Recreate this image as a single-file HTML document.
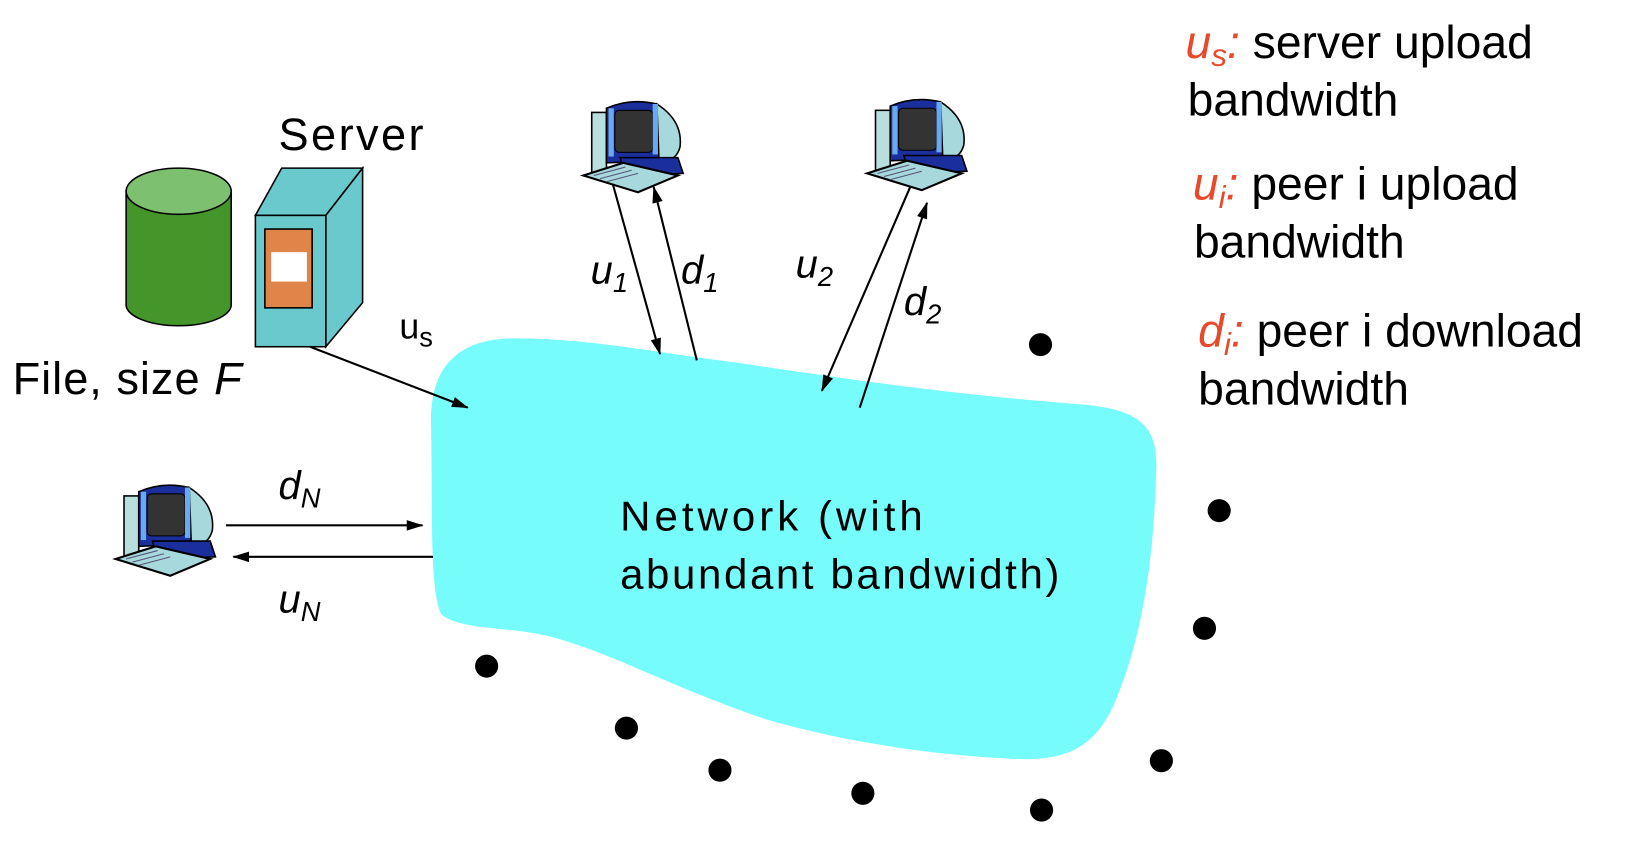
<!DOCTYPE html>
<html><head><meta charset="utf-8"><style>
html,body{margin:0;padding:0;background:#fff;}
svg{display:block}
text{font-family:"Liberation Sans",sans-serif;}
</style></head><body>
<svg width="1648" height="850" viewBox="0 0 1568 809" preserveAspectRatio="none" xmlns="http://www.w3.org/2000/svg">
<defs>
<marker id="ah" markerWidth="16" markerHeight="12" refX="15" refY="6" orient="auto" markerUnits="userSpaceOnUse" viewBox="0 0 16 12">
<path d="M0,1 L16,6 L0,11 Z" fill="#000"/>
</marker>
<g id="pc">
<rect x="8" y="12" width="14" height="58" fill="#b8dede" stroke="#000" stroke-width="1.5"/>
<path d="M22,8 Q45,-2 70,4 L72,58 L22,60 Z" fill="#1a2f9c" stroke="#000" stroke-width="1.5"/>
<path d="M70,4 Q95,20 92,45 Q88,60 72,58 Z" fill="#a6d8dc" stroke="#000" stroke-width="1.5"/>
<rect x="30" y="10" width="36" height="40" rx="4" fill="#333" stroke="#000"/>
<rect x="24" y="8" width="5" height="46" fill="#6aa8f0"/>
<rect x="66" y="4" width="5" height="48" fill="#6aa8f0"/>
<path d="M35,55 L90,55 L95,70 L40,72 Z" fill="#1a2f9c" stroke="#000" stroke-width="1.5"/>
<path d="M0,72 L38,60 L90,72 L52,88 Z" fill="#a6d8dc" stroke="#000" stroke-width="2"/>
<path d="M10,72 L40,64 M16,75 L46,67 M22,78 L52,70" stroke="#557" stroke-width="1"/>
</g>
</defs>

<!-- cylinder -->
<path d="M120,182 L120,290 A50,20 0 0 0 220,290 L220,182 Z" fill="#44962b" stroke="#000" stroke-width="1.5"/>
<ellipse cx="170" cy="182" rx="50" ry="22" fill="#7dc070" stroke="#000" stroke-width="1.5"/>

<!-- server -->
<path d="M243,205 L268,160 L345,160 L310,205 Z" fill="#6ac9cc" stroke="#000" stroke-width="1.5"/>
<path d="M310,205 L345,160 L345,288 L310,330 Z" fill="#6ac9cc" stroke="#000" stroke-width="1.5"/>
<rect x="243" y="205" width="67" height="125" fill="#6ac9cc" stroke="#000" stroke-width="1.5"/>
<rect x="252" y="218" width="45" height="75" fill="#e0844a" stroke="#000" stroke-width="1.5"/>
<rect x="258" y="240" width="34" height="28" fill="#fff"/>

<text x="265" y="143" font-size="43" textLength="138">Server</text>
<text x="12" y="375" font-size="43" textLength="218">File, size <tspan font-style="italic">F</tspan></text>
<text x="380" y="322" font-size="34">u<tspan font-size="26" dy="8">s</tspan></text>

<!-- cloud -->
<path d="M410,400 C410,345 440,322 490,322 C560,322 620,335 700,345 C800,360 900,375 1030,385 C1090,390 1102,410 1100,450 C1098,520 1090,600 1060,670 C1040,715 1010,725 960,722 C880,718 800,705 730,685 C640,655 580,620 520,605 C480,596 440,600 420,585 C408,560 412,480 410,400 Z" fill="#77fcfc"/>

<line x1="295" y1="330" x2="445" y2="388" stroke="#000" stroke-width="2" marker-end="url(#ah)"/>

<text x="590" y="505" font-size="40" textLength="288">Network (with</text>
<text x="590" y="560" font-size="40" textLength="418">abundant bandwidth)</text>

<!-- computers -->
<use href="#pc" transform="translate(555,95)"/>
<use href="#pc" transform="translate(825,93)"/>
<use href="#pc" transform="translate(110,460)"/>

<!-- arrows -->
<line x1="583" y1="175" x2="628" y2="337" stroke="#000" stroke-width="2" marker-end="url(#ah)"/>
<line x1="663" y1="343" x2="622" y2="178" stroke="#000" stroke-width="2" marker-end="url(#ah)"/>
<line x1="866" y1="178" x2="782" y2="372" stroke="#000" stroke-width="2" marker-end="url(#ah)"/>
<line x1="818" y1="388" x2="882" y2="193" stroke="#000" stroke-width="2" marker-end="url(#ah)"/>
<line x1="215" y1="500" x2="402" y2="500" stroke="#000" stroke-width="2" marker-end="url(#ah)"/>
<line x1="412" y1="530" x2="222" y2="530" stroke="#000" stroke-width="2" marker-end="url(#ah)"/>

<g font-size="38" font-style="italic">
<text x="562" y="270">u<tspan font-size="26" dy="8">1</tspan></text>
<text x="648" y="270">d<tspan font-size="26" dy="8">1</tspan></text>
<text x="757" y="264">u<tspan font-size="26" dy="8">2</tspan></text>
<text x="860" y="300">d<tspan font-size="26" dy="8">2</tspan></text>
<text x="265" y="475">d<tspan font-size="26" dy="8">N</tspan></text>
<text x="265" y="583">u<tspan font-size="26" dy="8">N</tspan></text>
</g>

<!-- dots -->
<g fill="#000">
<circle cx="990" cy="328" r="11"/><circle cx="1160" cy="486" r="11"/><circle cx="1146" cy="598" r="11"/>
<circle cx="463" cy="634" r="11"/><circle cx="596" cy="693" r="11"/><circle cx="685" cy="733" r="11"/>
<circle cx="821" cy="755" r="11"/><circle cx="991" cy="771" r="11"/><circle cx="1105" cy="724" r="11"/>
</g>

<!-- legend -->
<g font-size="44">
<text x="1128" y="55"><tspan fill="#e8492b" font-style="italic">u<tspan font-size="30" dy="8">s</tspan><tspan dy="-8">:</tspan></tspan> server upload</text>
<text x="1130" y="110">bandwidth</text>
<text x="1135" y="190"><tspan fill="#e8492b" font-style="italic">u<tspan font-size="30" dy="8">i</tspan><tspan dy="-8">:</tspan></tspan> peer i upload</text>
<text x="1136" y="245">bandwidth</text>
<text x="1140" y="330"><tspan fill="#e8492b" font-style="italic">d<tspan font-size="30" dy="8">i</tspan><tspan dy="-8">:</tspan></tspan> peer i download</text>
<text x="1140" y="385">bandwidth</text>
</g>
</svg>
</body></html>
